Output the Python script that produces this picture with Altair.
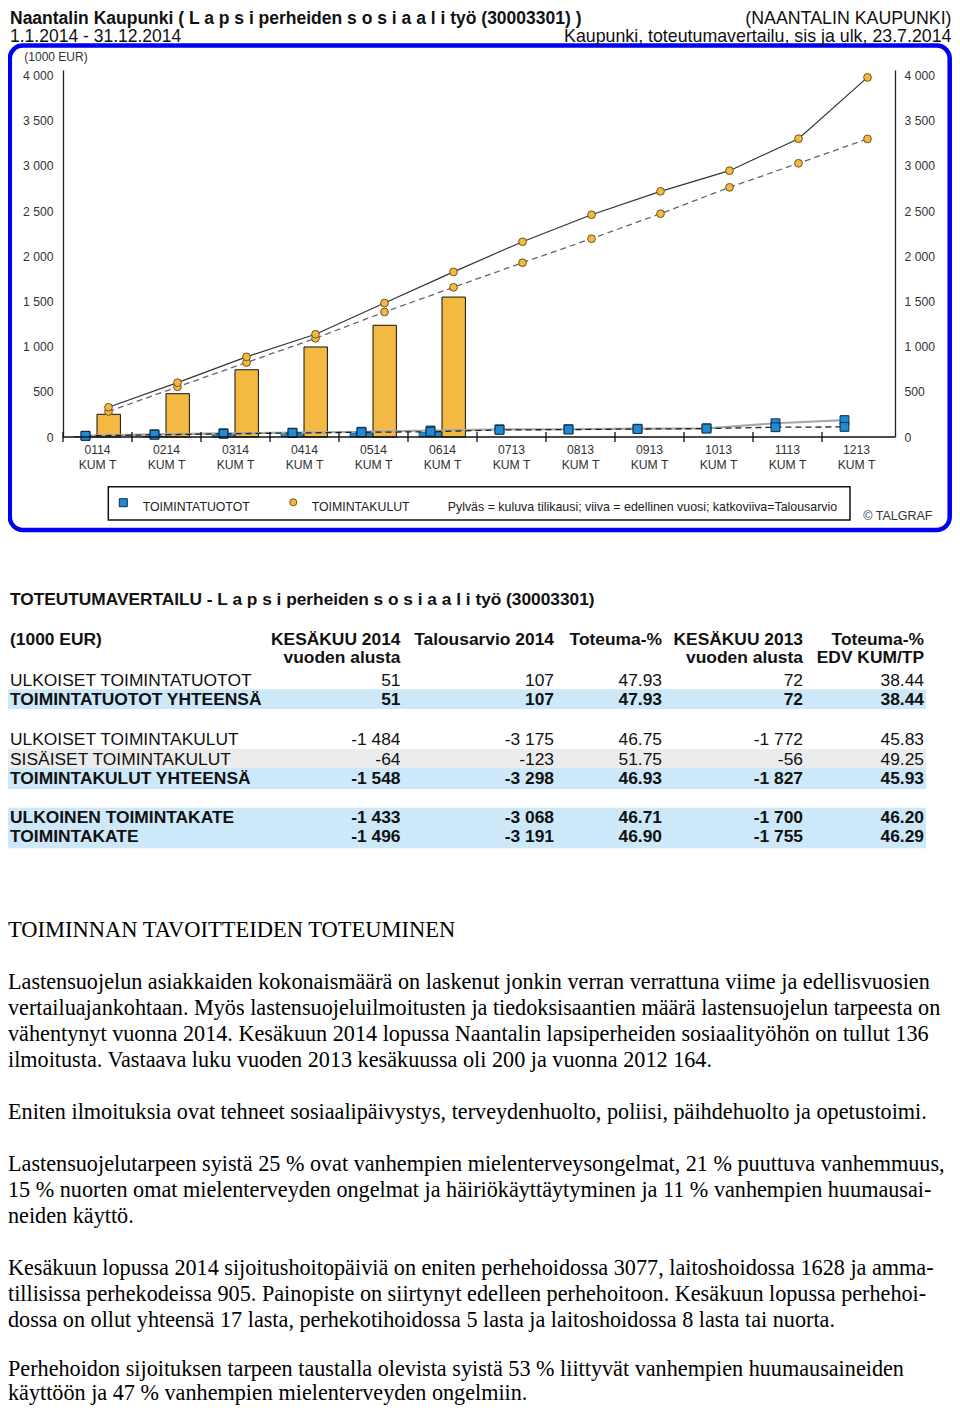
import altair as alt
import pandas as pd

# ---------------- data ----------------
months = ["0114", "0214", "0314", "0414", "0514", "0614",
          "0713", "0813", "0913", "1013", "1113", "1213"]
cost_current = [251, 479, 744, 996, 1236, 1548]
cost_prev_year = [329, 601, 887, 1137, 1482, 1827, 2160, 2459, 2718, 2946, 3300, 3978]
cost_budget = [282, 555, 824, 1092, 1383, 1656, 1928, 2194, 2470, 2762, 3028, 3298]
rev_current = [4, 8, 30, 38, 45, 51]
rev_prev_year = [14, 30, 41, 48, 58, 72, 85, 86, 92, 96, 152, 187]
rev_budget = [12, 24, 35, 44, 52, 58, 78, 82, 88, 93, 108, 112]
y_ticks = [0, 500, 1000, 1500, 2000, 2500, 3000, 3500, 4000]

title_left = "Naantalin Kaupunki ( L a p s i perheiden s o s i a a l i työ (30003301) )"
title_right = "(NAANTALIN KAUPUNKI)"
subtitle_left = "1.1.2014 - 31.12.2014"
subtitle_right = "Kaupunki, toteutumavertailu, sis ja ulk, 23.7.2014"
unit_label = "(1000 EUR)"
legend_labels = ["TOIMINTATUOTOT", "TOIMINTAKULUT",
                 "Pylväs = kuluva tilikausi; viiva = edellinen vuosi; katkoviiva=Talousarvio"]
copyright_label = "© TALGRAF"

table_title = "TOTEUTUMAVERTAILU - L a p s i perheiden s o s i a a l i työ (30003301)"
header_line1 = ["KESÄKUU 2014", "Talousarvio 2014", "Toteuma-%", "KESÄKUU 2013", "Toteuma-%"]
header_line2 = ["vuoden alusta", "", "", "vuoden alusta", "EDV KUM/TP"]
row_labels = ["ULKOISET TOIMINTATUOTOT", "TOIMINTATUOTOT YHTEENSÄ",
              "ULKOISET TOIMINTAKULUT", "SISÄISET TOIMINTAKULUT", "TOIMINTAKULUT YHTEENSÄ",
              "ULKOINEN TOIMINTAKATE", "TOIMINTAKATE"]
row_bold = [False, True, False, False, True, True, True]
kesakuu_2014 = [51, 51, -1484, -64, -1548, -1433, -1496]
talousarvio_2014 = [107, 107, -3175, -123, -3298, -3068, -3191]
toteuma_pct = [47.93, 47.93, 46.75, 51.75, 46.93, 46.71, 46.90]
kesakuu_2013 = [72, 72, -1772, -56, -1827, -1700, -1755]
toteuma_edv = [38.44, 38.44, 45.83, 49.25, 45.93, 46.20, 46.29]

text_heading = "TOIMINNAN TAVOITTEIDEN TOTEUMINEN"
text_lines = [
    "Lastensuojelun asiakkaiden kokonaismäärä on laskenut jonkin verran verrattuna viime ja edellisvuosien",
    "vertailuajankohtaan. Myös lastensuojeluilmoitusten ja tiedoksisaantien määrä lastensuojelun tarpeesta on",
    "vähentynyt vuonna 2014. Kesäkuun 2014 lopussa Naantalin lapsiperheiden sosiaalityöhön on tullut 136",
    "ilmoitusta. Vastaava luku vuoden 2013 kesäkuussa oli 200 ja vuonna 2012 164.",
    "Eniten ilmoituksia ovat tehneet sosiaalipäivystys, terveydenhuolto, poliisi, päihdehuolto ja opetustoimi.",
    "Lastensuojelutarpeen syistä 25 % ovat vanhempien mielenterveysongelmat, 21 % puuttuva vanhemmuus,",
    "15 % nuorten omat mielenterveyden ongelmat ja häiriökäyttäytyminen ja 11 % vanhempien huumausai-",
    "neiden käyttö.",
    "Kesäkuun lopussa 2014 sijoitushoitopäiviä on eniten perhehoidossa 3077, laitoshoidossa 1628 ja amma-",
    "tillisissa perhekodeissa 905. Painopiste on siirtynyt edelleen perhehoitoon. Kesäkuun lopussa perhehoi-",
    "dossa on ollut yhteensä 17 lasta, perhekotihoidossa 5 lasta ja laitoshoidossa 8 lasta tai nuorta.",
    "Perhehoidon sijoituksen tarpeen taustalla olevista syistä 53 % liittyvät vanhempien huumausaineiden",
    "käyttöön ja 47 % vanhempien mielenterveyden ongelmiin.",
]

# ---------------- layout ----------------
W, H = 832, 367
OX, OY = 63, 70          # page position of the plot origin
PAD = {"left": 55, "top": 62, "right": 57, "bottom": 968}


def cx(px):
    return px - OX


def cy(py):
    return py - OY


SANS = "Liberation Sans"
SERIF = "Liberation Serif"
YELLOW = "#F4B942"
YELLOW_EDGE = "#6E5218"
BLUE = "#1E8CD2"
BLUE_EDGE = "#0E2C48"
FRAME = "#0000F0"
ROW_BLUE = "#CDE9F9"
ROW_GRAY = "#ECECEC"

xscale = alt.Scale(type="band", domain=months, range=[0, 828], paddingInner=0, paddingOuter=0)
yscale = alt.Scale(domain=[0, 4060], nice=False, zero=True)
lbl = "replace(format(datum.value, ',d'), ',', ' ')"

df_full = pd.DataFrame({"month": months, "cost_prev": cost_prev_year, "cost_budget": cost_budget,
                        "rev_prev": rev_prev_year, "rev_budget": rev_budget})
df_cur = pd.DataFrame({"month": months[:6], "cost_cur": cost_current, "rev_cur": rev_current})
dummy = pd.DataFrame({"a": [0]})


def X(**kw):
    return alt.X("month:N", scale=xscale, axis=None, **kw)


def text_layer(rows, **mk):
    df = pd.DataFrame(rows, columns=["text", "px", "py"])
    return alt.Chart(df).mark_text(baseline="alphabetic", **mk).encode(
        x=alt.X("px:Q", scale=None, axis=None),
        y=alt.Y("py:Q", scale=None, axis=None),
        text="text:N",
    )


layers = []

# frame round the chart
layers.append(alt.Chart(dummy).mark_rect(fillOpacity=0, stroke=FRAME, strokeWidth=4.5, cornerRadius=13).encode(
    x=alt.value(cx(9.8)), x2=alt.value(cx(949.7)), y=alt.value(cy(45.5)), y2=alt.value(cy(530))))

# revenue bars (current year)
layers.append(alt.Chart(df_cur).mark_bar(width=23, xOffset=-12, fill=BLUE, stroke=BLUE_EDGE, strokeWidth=0.6).encode(
    x=X(), y=alt.Y("rev_cur:Q", scale=yscale, axis=None)))

# cost bars (current year) + left axis
layers.append(alt.Chart(df_cur).mark_bar(width=23.4, xOffset=11.2, fill=YELLOW, stroke="#111", strokeWidth=1).encode(
    x=X(),
    y=alt.Y("cost_cur:Q", scale=yscale, axis=alt.Axis(
        orient="left", values=y_ticks, labelExpr=lbl, ticks=False, grid=False, title=None,
        domainColor="#222", domainWidth=1.3, labelFont=SANS, labelFontSize=12.2, labelColor="#333",
        labelPadding=10))))

# lines
layers.append(alt.Chart(df_full).mark_line(xOffset=-12, stroke="#A8A8A8", strokeWidth=2.2).encode(
    x=X(), y=alt.Y("rev_prev:Q", scale=yscale, axis=None)))
layers.append(alt.Chart(df_full).mark_line(xOffset=-12, stroke="#222", strokeWidth=1.3, strokeDash=[6, 4]).encode(
    x=X(), y=alt.Y("rev_budget:Q", scale=yscale, axis=None)))
layers.append(alt.Chart(df_full).mark_line(xOffset=11, stroke="#666", strokeWidth=1.3, strokeDash=[6, 4]).encode(
    x=X(), y=alt.Y("cost_budget:Q", scale=yscale, axis=None)))
layers.append(alt.Chart(df_full).mark_line(xOffset=11, stroke="#333", strokeWidth=1.2).encode(
    x=X(),
    y=alt.Y("cost_prev:Q", scale=yscale, axis=alt.Axis(
        orient="right", values=y_ticks, labelExpr=lbl, ticks=False, grid=False, title=None,
        domainColor="#222", domainWidth=1.3, labelFont=SANS, labelFontSize=12.2, labelColor="#333",
        labelPadding=9))))

# markers
for col in ["rev_prev", "rev_budget"]:
    layers.append(alt.Chart(df_full).mark_point(shape="square", filled=True, fill=BLUE, stroke=BLUE_EDGE,
                                                strokeWidth=1, size=78, opacity=1, xOffset=-12).encode(
        x=X(), y=alt.Y(f"{col}:Q", scale=yscale, axis=None)))
for col in ["cost_budget", "cost_prev"]:
    layers.append(alt.Chart(df_full).mark_point(shape="circle", filled=True, fill=YELLOW, stroke=YELLOW_EDGE,
                                                strokeWidth=1, size=60, opacity=1, xOffset=11).encode(
        x=X(), y=alt.Y(f"{col}:Q", scale=yscale, axis=None)))

# x baseline and category ticks
layers.append(alt.Chart(dummy).mark_rule(stroke="#111", strokeWidth=1.5).encode(
    x=alt.value(0), x2=alt.value(W), y=alt.Y(datum=0, scale=yscale, axis=None)))
layers.append(alt.Chart(pd.DataFrame({"month": months})).mark_rule(stroke="#111", strokeWidth=1.3).encode(
    x=X(bandPosition=0), y=alt.value(cy(432)), y2=alt.value(cy(442))))

# category labels
df_m = pd.DataFrame({"month": months, "sub": ["KUM T"] * len(months)})
layers.append(alt.Chart(df_m).mark_text(font=SANS, fontSize=12.2, color="#333", baseline="alphabetic").encode(
    x=X(), y=alt.value(cy(454)), text="month:N"))
layers.append(alt.Chart(df_m).mark_text(font=SANS, fontSize=12.2, color="#333", baseline="alphabetic").encode(
    x=X(), y=alt.value(cy(468.5)), text="sub:N"))

# legend box and symbols
layers.append(alt.Chart(dummy).mark_rect(fillOpacity=0, stroke="#111", strokeWidth=1.5).encode(
    x=alt.value(cx(108.3)), x2=alt.value(cx(850)), y=alt.value(cy(486.7)), y2=alt.value(cy(520))))
layers.append(alt.Chart(dummy).mark_point(shape="square", filled=True, fill=BLUE, stroke=BLUE_EDGE,
                                          strokeWidth=1, size=64, opacity=1).encode(
    x=alt.value(cx(123.3)), y=alt.value(cy(502.7))))
layers.append(alt.Chart(dummy).mark_point(shape="circle", filled=True, fill=YELLOW, stroke=YELLOW_EDGE,
                                          strokeWidth=1, size=50, opacity=1).encode(
    x=alt.value(cx(293.3)), y=alt.value(cy(502.3))))

# chart texts
layers.append(text_layer([[title_left, cx(10), cy(24)]], font=SANS, fontSize=17.5, fontWeight="bold",
                         color="#111", align="left"))
layers.append(text_layer([[subtitle_left, cx(10), cy(42)]], font=SANS, fontSize=17.5, color="#111", align="left"))
layers.append(text_layer([[title_right, cx(951.5), cy(24)], [subtitle_right, cx(951.5), cy(42)]],
                         font=SANS, fontSize=17.8, color="#111", align="right"))
layers.append(text_layer([[unit_label, cx(24.3), cy(61)]], font=SANS, fontSize=12, color="#333", align="left"))
layers.append(text_layer([[legend_labels[0], cx(142.7), cy(510.7)], [legend_labels[1], cx(311.7), cy(510.7)]],
                         font=SANS, fontSize=12.3, color="#222", align="left"))
layers.append(text_layer([[legend_labels[2], cx(447.7), cy(510.7)]], font=SANS, fontSize=12.4,
                         color="#222", align="left"))
layers.append(text_layer([[copyright_label, cx(863.3), cy(520)]], font=SANS, fontSize=12.5,
                         color="#333", align="left"))

# ---------------- table ----------------
col_right = [cx(400.5), cx(554), cx(662), cx(803), cx(924)]
row_base = [cy(686), cy(704.5), cy(745), cy(764.5), cy(783.5), cy(823), cy(842)]
tab_left = cx(8)
tab_right = cx(926)

bg_rows = [
    [tab_left, tab_right, cy(689.3), cy(709), ROW_BLUE],
    [tab_left, tab_right, cy(749), cy(767.7), ROW_GRAY],
    [tab_left, tab_right, cy(767.7), cy(789), ROW_BLUE],
    [tab_left, tab_right, cy(807.7), cy(848.3), ROW_BLUE],
]
df_bg = pd.DataFrame(bg_rows, columns=["x1", "x2", "y1", "y2", "fill"])
layers.append(alt.Chart(df_bg).mark_rect().encode(
    x=alt.X("x1:Q", scale=None, axis=None), x2="x2:Q",
    y=alt.Y("y1:Q", scale=None, axis=None), y2="y2:Q",
    color=alt.Color("fill:N", scale=None)))


def fmt_int(v):
    return f"{v:,}".replace(",", " ")


def fmt_pct(v):
    return f"{v:.2f}"


columns = [[fmt_int(v) for v in kesakuu_2014], [fmt_int(v) for v in talousarvio_2014],
           [fmt_pct(v) for v in toteuma_pct], [fmt_int(v) for v in kesakuu_2013],
           [fmt_pct(v) for v in toteuma_edv]]

bold_left, norm_left, bold_right, norm_right = [], [], [], []
bold_left.append([table_title, cx(10), cy(605)])
bold_left.append([unit_label, cx(10), cy(645)])
for i, h in enumerate(header_line1):
    bold_right.append([h, col_right[i], cy(645)])
    if header_line2[i]:
        bold_right.append([header_line2[i], col_right[i], cy(663.3)])
for r, lab in enumerate(row_labels):
    (bold_left if row_bold[r] else norm_left).append([lab, cx(10), row_base[r]])
    for c in range(5):
        (bold_right if row_bold[r] else norm_right).append([columns[c][r], col_right[c], row_base[r]])

TF = 17.4
layers.append(text_layer(bold_left[:1], font=SANS, fontSize=17.3, fontWeight="bold", color="#111", align="left"))
layers.append(text_layer(bold_left[1:], font=SANS, fontSize=TF, fontWeight="bold", color="#111", align="left"))
layers.append(text_layer(norm_left, font=SANS, fontSize=TF, color="#111", align="left"))
layers.append(text_layer(bold_right, font=SANS, fontSize=TF, fontWeight="bold", color="#111", align="right"))
layers.append(text_layer(norm_right, font=SANS, fontSize=TF, color="#111", align="right"))

# ---------------- text section ----------------
line_base = [989, 1015, 1041, 1067, 1119, 1171, 1197, 1223, 1275, 1301, 1327, 1376, 1400]
layers.append(text_layer([[text_heading, cx(8), cy(937)]], font=SERIF, fontSize=22.5, color="#000", align="left"))
layers.append(text_layer([[t, cx(8), cy(b)] for t, b in zip(text_lines, line_base)],
                         font=SERIF, fontSize=22.2, color="#000", align="left"))

chart = alt.layer(*layers).properties(
    width=W, height=H, padding=PAD,
    autosize=alt.AutoSizeParams(type="none"),
    background="white",
).configure_view(strokeWidth=0)

chart.save("out.html", embed_options={"renderer": "svg", "actions": False})
